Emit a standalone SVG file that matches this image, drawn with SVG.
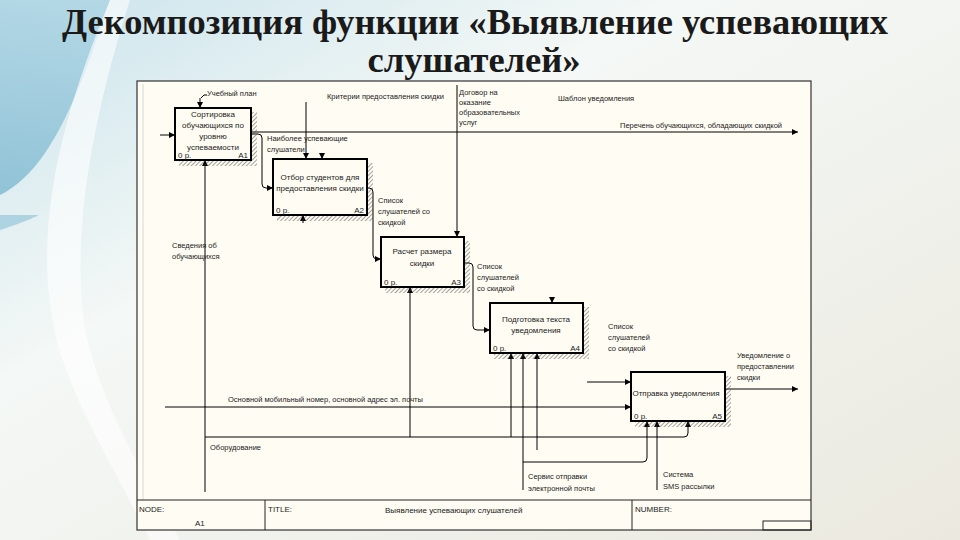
<svg xmlns="http://www.w3.org/2000/svg" width="960" height="540" viewBox="0 0 960 540">
<defs>
<linearGradient id="bg" x1="0" y1="0" x2="1" y2="1">
<stop offset="0" stop-color="#c9e3ec"/>
<stop offset="0.35" stop-color="#f4f8f6"/>
<stop offset="1" stop-color="#ebe9df"/>
</linearGradient>
<linearGradient id="blue" x1="0" y1="0" x2="0" y2="1">
<stop offset="0" stop-color="#a8d2e2"/>
<stop offset="1" stop-color="#6fb0cc"/>
</linearGradient>
<pattern id="hatch" width="3" height="3" patternUnits="userSpaceOnUse" patternTransform="rotate(45)">
<line x1="0" y1="0" x2="0" y2="3" stroke="#444" stroke-width="1"/>
</pattern>
<marker id="ar" viewBox="0 0 8 8" refX="8" refY="4" markerWidth="6" markerHeight="6" orient="auto" markerUnits="userSpaceOnUse">
<path d="M0,0 L8,4 L0,8 z" fill="#000"/>
</marker>
<style>
.box{fill:#fffdf3;stroke:#000;stroke-width:2}
.sh{fill:url(#hatch)}
.t{font-family:"Liberation Sans",Arial,sans-serif;font-size:7.5px;fill:#222}
.bt{font-family:"Liberation Sans",Arial,sans-serif;font-size:8px;fill:#222;text-anchor:middle}
.c{fill:none;stroke:#000;stroke-width:1}
.ft{font-family:"Liberation Sans",Arial,sans-serif;font-size:8px;fill:#222}
</style>
</defs>
<rect x="0" y="0" width="960" height="540" fill="url(#bg)"/>
<path d="M0,0 H110 C90,60 70,120 40,160 C25,180 10,190 0,195 Z" fill="url(#blue)" opacity="0.7"/>
<path d="M0,230 C30,220 40,215 38,215 L0,215 Z" fill="#7ab6cf" opacity="0.5"/>
<path d="M110,0 C60,120 20,260 70,380 C90,430 120,480 150,540 L180,540 C140,470 100,400 85,330 C70,230 95,110 130,0 Z" fill="#ffffff" opacity="0.6"/>
<text x="475" y="34" text-anchor="middle" font-family="'Liberation Serif','DejaVu Serif',serif" font-weight="bold" font-size="36" fill="#1a1a1a" textLength="826" lengthAdjust="spacingAndGlyphs">Декомпозиция функции «Выявление успевающих</text>
<text x="474" y="72" text-anchor="middle" font-family="'Liberation Serif','DejaVu Serif',serif" font-weight="bold" font-size="36" fill="#1a1a1a" textLength="213" lengthAdjust="spacingAndGlyphs">слушателей»</text>

<g id="frame">
<rect x="137" y="81" width="674" height="449" fill="#fffdf3" stroke="#333" stroke-width="1.2"/>
<line x1="143" y1="84" x2="143" y2="500" stroke="#ccc" stroke-width="0.8"/>
<line x1="137" y1="500" x2="811" y2="500" stroke="#222" stroke-width="1"/>
<line x1="265" y1="500" x2="265" y2="530" stroke="#222" stroke-width="1"/>
<line x1="632" y1="500" x2="632" y2="530" stroke="#222" stroke-width="1"/>
<rect x="763" y="521" width="48" height="9" fill="none" stroke="#222" stroke-width="1"/>
<text class="ft" x="139" y="512">NODE:</text>
<text class="ft" x="195" y="526">A1</text>
<text class="ft" x="268" y="512">TITLE:</text>
<text class="ft" x="385" y="513">Выявление успевающих слушателей</text>
<text class="ft" x="635" y="512">NUMBER:</text>
</g>

<g id="connectors">
<path class="c" d="M160,135 H175" marker-end="url(#ar)"/>
<path class="c" d="M200,98 V108" marker-end="url(#ar)"/>
<path class="c" d="M201,98 L204,95 L207,95" stroke-width="0.7"/>
<path class="c" d="M251,132 H798" marker-end="url(#ar)"/>
<path class="c" d="M251,134 H258 Q262,134 262,138 V184 Q262,188 266,188 H273" marker-end="url(#ar)"/>
<path class="c" d="M306,102 V159" marker-end="url(#ar)"/>
<path class="c" d="M322,153 V159" marker-end="url(#ar)"/>
<path class="c" d="M457,85 V237" marker-end="url(#ar)"/>
<path class="c" d="M552,297 V303" marker-end="url(#ar)"/>
<path class="c" d="M367,188 H369 Q373,188 373,192 V255 Q373,259 377,259 H381" marker-end="url(#ar)"/>
<path class="c" d="M464,263 H469 Q473,263 473,267 V326 Q473,330 477,330 H490" marker-end="url(#ar)"/>
<path class="c" d="M587,382 H631" marker-end="url(#ar)"/>
<path class="c" d="M165,407 H631" marker-end="url(#ar)"/>
<path class="c" d="M725,389 H798" marker-end="url(#ar)"/>
<path class="c" d="M205,492 V160" marker-end="url(#ar)"/>
<path class="c" d="M205,437 H684 Q688,437 688,433 V421" marker-end="url(#ar)"/>
<path class="c" d="M410,437 V287" marker-end="url(#ar)"/>
<path class="c" d="M303,223 V215" marker-end="url(#ar)"/>
<path class="c" d="M511,437 V353" marker-end="url(#ar)"/>
<path class="c" d="M523,490 V353" marker-end="url(#ar)"/>
<path class="c" d="M523,462 H643 Q647,462 647,458 V421" marker-end="url(#ar)"/>
<path class="c" d="M537,450 V353" marker-end="url(#ar)"/>
<path class="c" d="M657,490 V421" marker-end="url(#ar)"/>
<text class="t" x="207" y="96">Учебный план</text>
<text class="t" x="327" y="99">Критерии предоставления скидки</text>
<text class="t" x="459" y="95">Договор на</text>
<text class="t" x="459" y="105">оказание</text>
<text class="t" x="459" y="115">образовательных</text>
<text class="t" x="459" y="125">услуг</text>
<text class="t" x="558" y="101">Шаблон уведомления</text>
<text class="t" x="620" y="128">Перечень обучающихся, обладающих скидкой</text>
<text class="t" x="267" y="141">Наиболее успевающие</text>
<text class="t" x="267" y="152">слушатели</text>
<text class="t" x="378" y="203">Список</text>
<text class="t" x="378" y="214">слушателей со</text>
<text class="t" x="378" y="225">скидкой</text>
<text class="t" x="477" y="269">Список</text>
<text class="t" x="477" y="280">слушателей</text>
<text class="t" x="477" y="291">со скидкой</text>
<text class="t" x="608" y="329">Список</text>
<text class="t" x="608" y="340">слушателей</text>
<text class="t" x="608" y="351">со скидкой</text>
<text class="t" x="737" y="358">Уведомление о</text>
<text class="t" x="737" y="369">предоставлении</text>
<text class="t" x="737" y="380">скидки</text>
<text class="t" x="172" y="248">Сведения об</text>
<text class="t" x="172" y="259">обучающихся</text>
<text class="t" x="228" y="402">Основной мобильный номер, основной адрес эл. почты</text>
<text class="t" x="210" y="450">Оборудование</text>
<text class="t" x="528" y="479">Сервис отправки</text>
<text class="t" x="528" y="491">электронной почты</text>
<text class="t" x="663" y="477">Система</text>
<text class="t" x="663" y="489">SMS рассылки</text>
</g>

<g id="A1">
<path class="sh" d="M251,112 H257 V166 H179 V160 H251 Z"/>
<rect class="box" x="175" y="108" width="76" height="52"/>
<text class="bt" x="213" y="117">Сортировка</text>
<text class="bt" x="213" y="128">обучающихся по</text>
<text class="bt" x="213" y="139">уровню</text>
<text class="bt" x="213" y="150">успеваемости</text>
<text class="ft" x="178" y="158">0 р.</text>
<text class="ft" x="248" y="158" text-anchor="end">A1</text>
</g>
<g id="A2">
<path class="sh" d="M367,163 H373 V221 H277 V215 H367 Z"/>
<rect class="box" x="273" y="159" width="94" height="56"/>
<text class="bt" x="320" y="180">Отбор студентов для</text>
<text class="bt" x="320" y="191">предоставления скидки</text>
<text class="ft" x="276" y="213">0 р.</text>
<text class="ft" x="364" y="213" text-anchor="end">A2</text>
</g>
<g id="A3">
<path class="sh" d="M464,241 H470 V293 H385 V287 H464 Z"/>
<rect class="box" x="381" y="237" width="83" height="50"/>
<text class="bt" x="422" y="254">Расчет размера</text>
<text class="bt" x="422" y="266">скидки</text>
<text class="ft" x="384" y="285">0 р.</text>
<text class="ft" x="461" y="285" text-anchor="end">A3</text>
</g>
<g id="A4">
<path class="sh" d="M583,307 H589 V359 H494 V353 H583 Z"/>
<rect class="box" x="490" y="303" width="93" height="50"/>
<text class="bt" x="536" y="322">Подготовка текста</text>
<text class="bt" x="536" y="333">уведомления</text>
<text class="ft" x="493" y="351">0 р.</text>
<text class="ft" x="580" y="351" text-anchor="end">A4</text>
</g>
<g id="A5">
<path class="sh" d="M725,376 H731 V427 H635 V421 H725 Z"/>
<rect class="box" x="631" y="372" width="94" height="49"/>
<text class="bt" x="676" y="396">Отправка уведомления</text>
<text class="ft" x="634" y="419">0 р.</text>
<text class="ft" x="722" y="419" text-anchor="end">A5</text>
</g>
</svg>
